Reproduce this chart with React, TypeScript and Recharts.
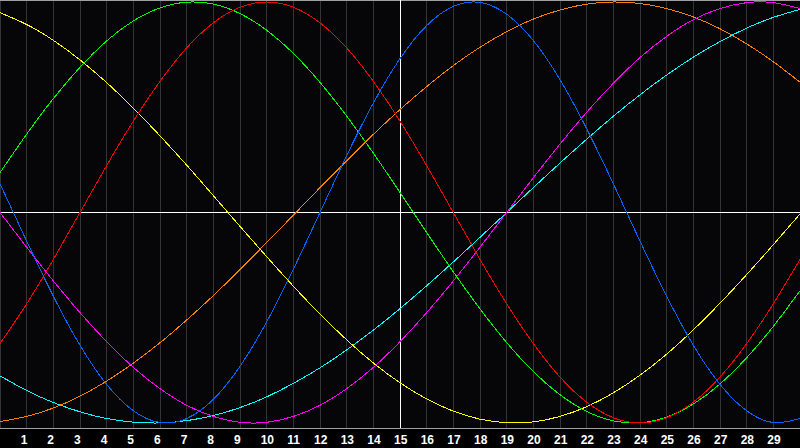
import React from 'react';
import { LineChart, Line, XAxis, YAxis, CartesianGrid, ReferenceLine } from 'recharts';

const days = [0, 1, 2, 3, 4, 5, 6, 7, 8, 9, 10, 11, 12, 13, 14, 15, 16, 17, 18, 19, 20, 21, 22, 23, 24, 25, 26, 27, 28, 29, 30];
const tickDays = [1, 2, 3, 4, 5, 6, 7, 8, 9, 10, 11, 12, 13, 14, 15, 16, 17, 18, 19, 20, 21, 22, 23, 24, 25, 26, 27, 28, 29];

const physical = [0.136, -0.136, -0.398, -0.631, -0.817, -0.942, -0.998, -0.979, -0.888, -0.731, -0.52, -0.27, 0.0, 0.27, 0.52, 0.731, 0.888, 0.979, 0.998, 0.942, 0.817, 0.631, 0.398, 0.136, -0.136, -0.398, -0.631, -0.817, -0.942, -0.998, -0.979];
const emotional = [-0.623, -0.434, -0.223, 0.0, 0.223, 0.434, 0.623, 0.782, 0.901, 0.975, 1.0, 0.975, 0.901, 0.782, 0.623, 0.434, 0.223, 0.0, -0.223, -0.434, -0.623, -0.782, -0.901, -0.975, -1.0, -0.975, -0.901, -0.782, -0.623, -0.434, -0.223];
const intellectual = [0.189, 0.372, 0.541, 0.69, 0.815, 0.91, 0.972, 0.999, 0.99, 0.945, 0.866, 0.756, 0.618, 0.458, 0.282, 0.095, -0.095, -0.282, -0.458, -0.618, -0.756, -0.866, -0.945, -0.99, -0.999, -0.972, -0.91, -0.815, -0.69, -0.541, -0.372];
const intuitive = [0.0, -0.165, -0.325, -0.476, -0.614, -0.736, -0.837, -0.916, -0.969, -0.997, -0.997, -0.969, -0.916, -0.837, -0.736, -0.614, -0.476, -0.325, -0.165, 0.0, 0.165, 0.325, 0.476, 0.614, 0.736, 0.837, 0.916, 0.969, 0.997, 0.997, 0.969];
const aesthetic = [0.949, 0.893, 0.818, 0.725, 0.617, 0.496, 0.364, 0.225, 0.08, -0.066, -0.21, -0.35, -0.483, -0.605, -0.715, -0.809, -0.886, -0.944, -0.982, -0.999, -0.995, -0.969, -0.923, -0.857, -0.773, -0.673, -0.558, -0.431, -0.295, -0.153, -0.007];
const awareness = [-0.993, -0.969, -0.929, -0.873, -0.801, -0.716, -0.619, -0.511, -0.395, -0.271, -0.143, -0.013, 0.118, 0.246, 0.371, 0.489, 0.598, 0.698, 0.785, 0.859, 0.919, 0.962, 0.99, 1.0, 0.993, 0.969, 0.929, 0.873, 0.801, 0.716, 0.619];
const spiritual = [-0.776, -0.846, -0.903, -0.947, -0.979, -0.996, -1.0, -0.989, -0.965, -0.927, -0.876, -0.812, -0.738, -0.653, -0.559, -0.457, -0.348, -0.235, -0.118, 0.0, 0.118, 0.235, 0.348, 0.457, 0.559, 0.653, 0.738, 0.812, 0.876, 0.927, 0.965];

const data = days.map((d, i) => ({
  day: d,
  physical: physical[i],
  emotional: emotional[i],
  intellectual: intellectual[i],
  intuitive: intuitive[i],
  aesthetic: aesthetic[i],
  awareness: awareness[i],
  spiritual: spiritual[i],
}));

const series = [
  { key: 'spiritual', color: '#00ffff' },
  { key: 'awareness', color: '#ff8000' },
  { key: 'aesthetic', color: '#ffff00' },
  { key: 'intuitive', color: '#ff00ff' },
  { key: 'intellectual', color: '#00ff00' },
  { key: 'emotional', color: '#ff0000' },
  { key: 'physical', color: '#0066ff' },
];

const DayTick = (props: any) => (
  <text
    x={props.x - 6}
    y={444}
    fill="#ffffff"
    fontSize={12}
    fontWeight="bold"
    fontFamily="'Liberation Sans', Arial, sans-serif"
    textAnchor="start"
  >
    {props.payload.value}
  </text>
);

export default function App() {
  return (
    <div style={{ position: 'absolute', left: 0, top: 0, width: 800, height: 448, background: '#000' }}>
      <LineChart
        width={800}
        height={448}
        data={data}
        margin={{ top: 0, right: 0, bottom: 0, left: 0 }}
        style={{ shapeRendering: 'crispEdges' }}
      >
        <CartesianGrid vertical horizontal={false} stroke="#333333" fill="#060609" />
        <XAxis
          dataKey="day"
          type="number"
          domain={[0, 30]}
          ticks={tickDays}
          height={20}
          tickSize={0}
          tickLine={false}
          axisLine={{ stroke: '#a0a0a0', strokeWidth: 1 }}
          tick={<DayTick />}
          interval={0}
          allowDataOverflow
        />
        <YAxis
          type="number"
          domain={[-1.024, 1.0095]}
          allowDataOverflow
          width={0}
          ticks={[]}
          tick={false}
          tickLine={false}
          axisLine={{ stroke: '#a0a0a0', strokeWidth: 2 }}
        />
        <ReferenceLine y={1.0095} stroke="#a0a0a0" strokeWidth={2} />
        <ReferenceLine y={0} stroke="#ffffff" strokeWidth={1} />
        <ReferenceLine x={15} stroke="#ffffff" strokeWidth={1} />
        {series.map((s) => (
          <Line
            key={s.key}
            dataKey={s.key}
            type="natural"
            stroke={s.color}
            strokeWidth={1}
            dot={false}
            activeDot={false}
            isAnimationActive={false}
          />
        ))}
      </LineChart>
    </div>
  );
}
